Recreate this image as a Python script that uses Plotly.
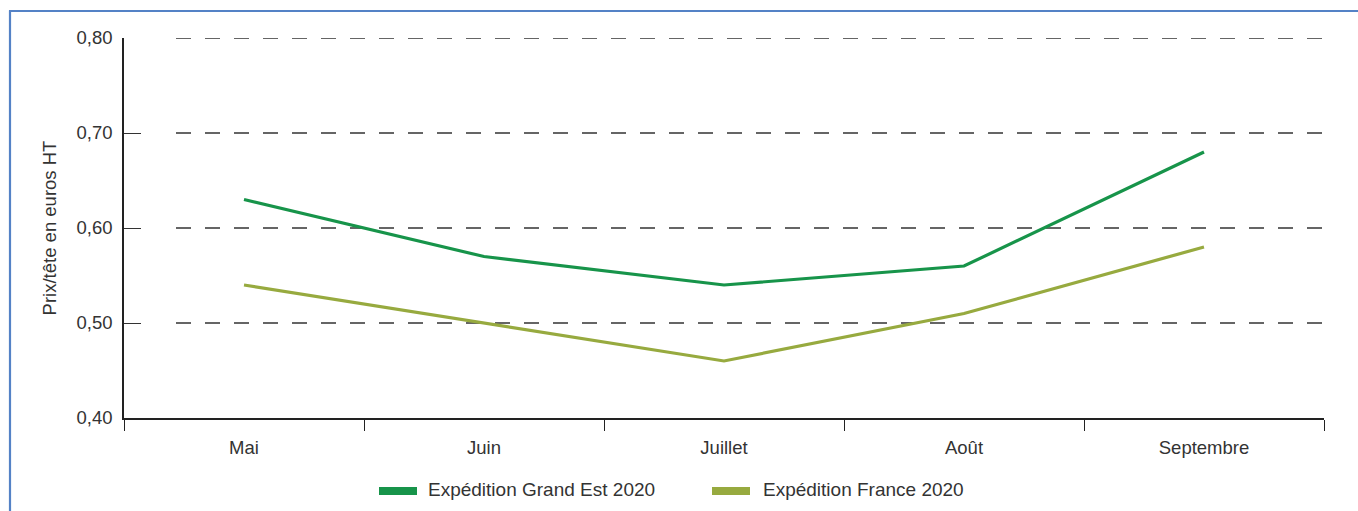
import plotly.graph_objects as go

# Monthly price per head, euros excl. VAT
mois = ["Mai", "Juin", "Juillet", "Août", "Septembre"]
grand_est_2020 = [0.63, 0.57, 0.54, 0.56, 0.68]
france_2020 = [0.54, 0.50, 0.46, 0.51, 0.58]
y_ticks = [0.40, 0.50, 0.60, 0.70, 0.80]
series_names = ["Expédition Grand Est 2020", "Expédition France 2020"]

COL_GE = "#17944a"
COL_FR = "#97aa3f"
FONT = "Liberation Sans, Arial, sans-serif"
TXT = "#333333"

W, H = 1358, 511
L, R, T, B = 124, 34, 38, 93
PW, PH = W - L - R, H - T - B


def px_x(px):
    return (px - L) / PW


def px_y(py):
    return (H - B - py) / PH


fig = go.Figure()

fig.add_trace(go.Scatter(x=mois, y=grand_est_2020, mode="lines", name=series_names[0],
                         line=dict(color=COL_GE, width=3.2), showlegend=False,
                         hoverinfo="skip"))
fig.add_trace(go.Scatter(x=mois, y=france_2020, mode="lines", name=series_names[1],
                         line=dict(color=COL_FR, width=3.2), showlegend=False,
                         hoverinfo="skip"))

shapes = []
annotations = []
# dashed horizontal gridlines
for v in y_ticks[1:]:
    shapes.append(dict(type="line", xref="paper", yref="y",
                       x0=px_x(176), x1=px_x(1323), y0=v, y1=v,
                       line=dict(color="#333333", width=1.3, dash="15px,14px"),
                       layer="below"))
# outer frame (left and top edges)
frame_col = "#5482c6"
shapes.append(dict(type="line", xref="paper", yref="paper",
                   x0=px_x(10), x1=px_x(10), y0=px_y(10.5), y1=px_y(530),
                   line=dict(color=frame_col, width=2.2)))
shapes.append(dict(type="line", xref="paper", yref="paper",
                   x0=px_x(9), x1=px_x(1370), y0=px_y(11), y1=px_y(11),
                   line=dict(color=frame_col, width=2.2)))

# legend: thick swatch followed by the series name
legend_items = [(series_names[0], COL_GE, 379, 417, 426),
                (series_names[1], COL_FR, 712, 750, 761)]
for name, col, sx0, sx1, tx in legend_items:
    shapes.append(dict(type="rect", xref="paper", yref="paper",
                       x0=px_x(sx0), x1=px_x(sx1), y0=px_y(487), y1=px_y(495),
                       fillcolor=col, line=dict(width=0)))
    annotations.append(dict(text=name, xref="paper", yref="paper",
                            x=px_x(tx), y=px_y(490), xanchor="left", yanchor="middle",
                            showarrow=False,
                            font=dict(family=FONT, size=19, color=TXT)))

fig.update_layout(
    width=W, height=H,
    margin=dict(l=L, r=R, t=T, b=B, pad=0, autoexpand=False),
    paper_bgcolor="white", plot_bgcolor="white",
    separators=", ",
    font=dict(family=FONT, size=19, color=TXT),
    shapes=shapes,
    annotations=annotations,
    showlegend=False,
    xaxis=dict(
        type="category", range=[-0.5, 4.5], automargin=False,
        showgrid=False, zeroline=False,
        showline=True, linecolor="#222222", linewidth=1.5,
        ticks="outside", tickson="boundaries", ticklen=11,
        tickcolor="#222222", tickwidth=1.3,
        tickfont=dict(family=FONT, size=18.5, color=TXT),
        ticklabelstandoff=12,
    ),
    yaxis=dict(
        range=[0.40, 0.80], tickvals=y_ticks, tickformat=".2f", automargin=False,
        showgrid=False, zeroline=False,
        showline=True, linecolor="#222222", linewidth=1.5,
        ticks="inside", ticklen=17, tickcolor="#333333", tickwidth=1.3,
        tickfont=dict(family=FONT, size=18.5, color=TXT),
        ticklabelstandoff=6,
        title=dict(text="Prix/tête en euros HT", standoff=15,
                   font=dict(family=FONT, size=18.5, color=TXT)),
    ),
)

fig.write_html("out.html")
